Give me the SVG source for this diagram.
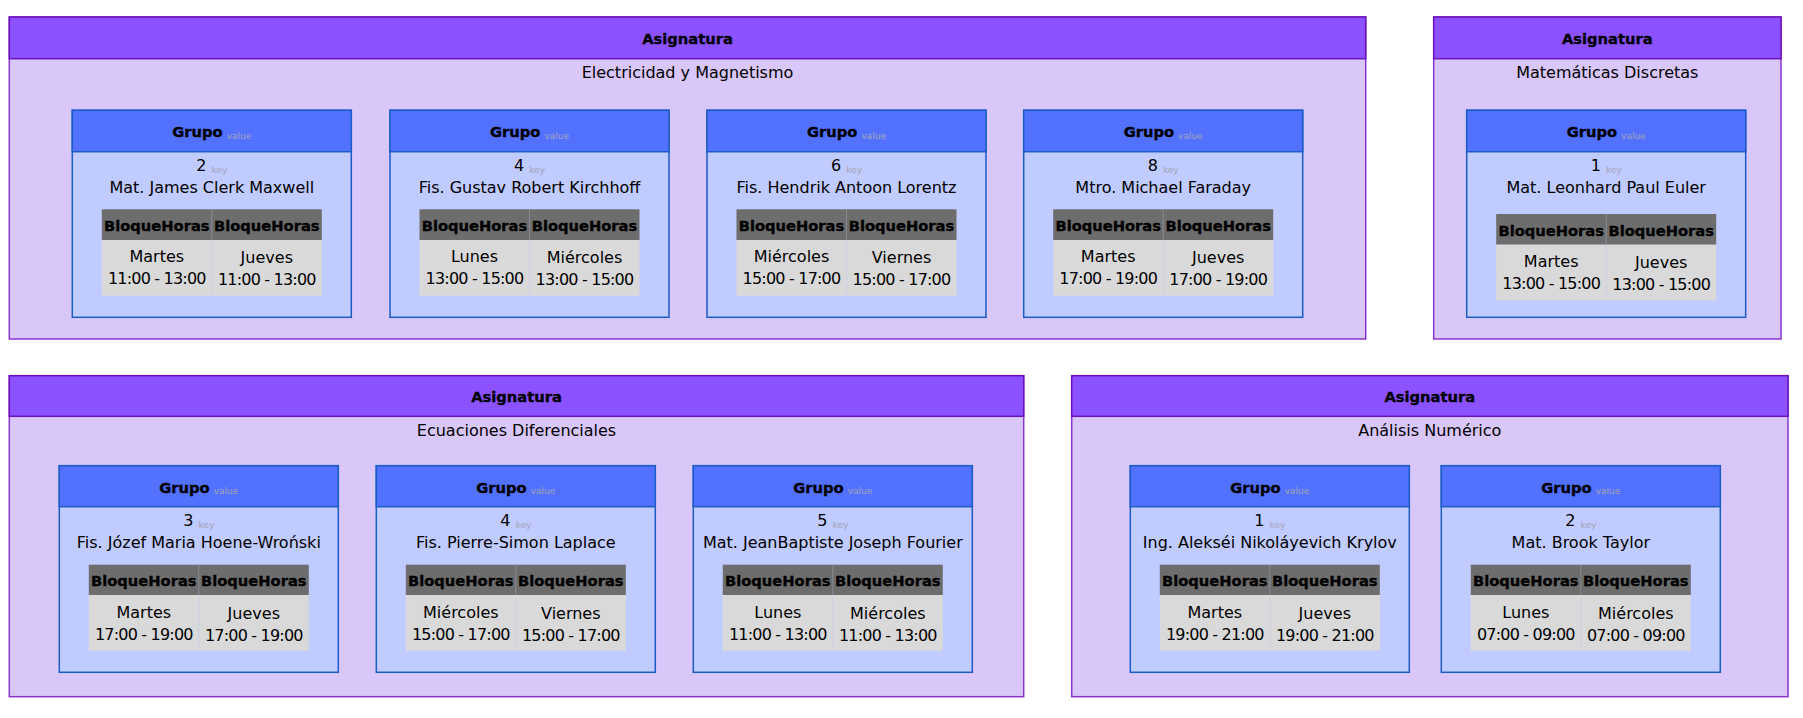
<svg xmlns="http://www.w3.org/2000/svg" width="1803" height="718" viewBox="0 0 1803 718">
<style>
text{font-family:"DejaVu Sans","Liberation Sans",sans-serif;text-anchor:middle;fill:#000}
.ab{fill:#d9c7f9;stroke:#8a34d0;stroke-width:1.5}
.ah{fill:#8c52ff;stroke:#6a12b8;stroke-width:1.5}
.at{font-size:14.7px;font-weight:bold;stroke:#000;stroke-width:0.35px}
.st{font-size:16px}
.gb{fill:#c0cbff;stroke:#1b5dc6;stroke-width:1.5}
.gh{fill:#5271ff;stroke:#1b5dc6;stroke-width:1.5}
.b{font-weight:bold;font-size:14.7px;stroke:#000;stroke-width:0.35px}
.t{font-size:16px}
.sm{font-size:9px;fill:#a3a5b3;font-weight:normal;stroke:none}
.th{fill:#6d6d6d}
.td{fill:#d9d9d9}
.thd{stroke:#8a8a96;stroke-width:1}
.tdd{stroke:#cdd0e2;stroke-width:1}
.bh{font-size:14.7px;font-weight:bold;stroke:#000;stroke-width:0.35px}
.c{font-size:16px}
.tm{letter-spacing:-0.8px}
</style>
<g id="connectors"/>

<!-- Asignatura: Electricidad y Magnetismo -->
<g id="asig-electricidad">
<rect class="ab" x="9.3" y="17" width="1356.4" height="322"/>
<rect class="ah" x="9.3" y="17" width="1356.4" height="41.7"/>
<text class="at" x="687.5" y="44.3">Asignatura</text>
<text class="st" x="687.5" y="77.7">Electricidad y Magnetismo</text>
</g>

<g id="grupo-em-2" transform="translate(72.3,110.3)">
<rect class="gb" width="279" height="207"/><rect class="gh" width="279" height="41.4"/>
<text x="139.5" y="27"><tspan class="b">Grupo</tspan><tspan class="sm" dx="4" dy="1.5">value</tspan></text>
<text class="t" x="139.5" y="60.7"><tspan>2</tspan><tspan class="sm" dx="5" dy="1.7">key</tspan></text>
<text class="t" x="139.5" y="83">Mat. James Clerk Maxwell</text>
<g transform="translate(29.5,99)">
<rect class="th" width="220" height="30.7"/><rect class="td" y="30.7" width="220" height="55.7"/>
<line class="thd" x1="110" y1="0" x2="110" y2="30.7"/><line class="tdd" x1="110" y1="30.7" x2="110" y2="86.4"/>
<text class="bh" x="55" y="21.7">BloqueHoras</text><text class="bh" x="165" y="21.7">BloqueHoras</text>
<text class="c" x="55" y="53">Martes</text><text class="c tm" x="55" y="75">11:00 - 13:00</text>
<text class="c" x="165" y="54">Jueves</text><text class="c tm" x="165" y="76">11:00 - 13:00</text>
</g>
</g>

<g id="grupo-em-4" transform="translate(390,110.3)">
<rect class="gb" width="279" height="207"/><rect class="gh" width="279" height="41.4"/>
<text x="139.5" y="27"><tspan class="b">Grupo</tspan><tspan class="sm" dx="4" dy="1.5">value</tspan></text>
<text class="t" x="139.5" y="60.7"><tspan>4</tspan><tspan class="sm" dx="5" dy="1.7">key</tspan></text>
<text class="t" x="139.5" y="83">Fis. Gustav Robert Kirchhoff</text>
<g transform="translate(29.5,99)">
<rect class="th" width="220" height="30.7"/><rect class="td" y="30.7" width="220" height="55.7"/>
<line class="thd" x1="110" y1="0" x2="110" y2="30.7"/><line class="tdd" x1="110" y1="30.7" x2="110" y2="86.4"/>
<text class="bh" x="55" y="21.7">BloqueHoras</text><text class="bh" x="165" y="21.7">BloqueHoras</text>
<text class="c" x="55" y="53">Lunes</text><text class="c tm" x="55" y="75">13:00 - 15:00</text>
<text class="c" x="165" y="54">Miércoles</text><text class="c tm" x="165" y="76">13:00 - 15:00</text>
</g>
</g>

<g id="grupo-em-6" transform="translate(707,110.3)">
<rect class="gb" width="279" height="207"/><rect class="gh" width="279" height="41.4"/>
<text x="139.5" y="27"><tspan class="b">Grupo</tspan><tspan class="sm" dx="4" dy="1.5">value</tspan></text>
<text class="t" x="139.5" y="60.7"><tspan>6</tspan><tspan class="sm" dx="5" dy="1.7">key</tspan></text>
<text class="t" x="139.5" y="83">Fis. Hendrik Antoon Lorentz</text>
<g transform="translate(29.5,99)">
<rect class="th" width="220" height="30.7"/><rect class="td" y="30.7" width="220" height="55.7"/>
<line class="thd" x1="110" y1="0" x2="110" y2="30.7"/><line class="tdd" x1="110" y1="30.7" x2="110" y2="86.4"/>
<text class="bh" x="55" y="21.7">BloqueHoras</text><text class="bh" x="165" y="21.7">BloqueHoras</text>
<text class="c" x="55" y="53">Miércoles</text><text class="c tm" x="55" y="75">15:00 - 17:00</text>
<text class="c" x="165" y="54">Viernes</text><text class="c tm" x="165" y="76">15:00 - 17:00</text>
</g>
</g>

<g id="grupo-em-8" transform="translate(1023.7,110.3)">
<rect class="gb" width="279" height="207"/><rect class="gh" width="279" height="41.4"/>
<text x="139.5" y="27"><tspan class="b">Grupo</tspan><tspan class="sm" dx="4" dy="1.5">value</tspan></text>
<text class="t" x="139.5" y="60.7"><tspan>8</tspan><tspan class="sm" dx="5" dy="1.7">key</tspan></text>
<text class="t" x="139.5" y="83">Mtro. Michael Faraday</text>
<g transform="translate(29.5,99)">
<rect class="th" width="220" height="30.7"/><rect class="td" y="30.7" width="220" height="55.7"/>
<line class="thd" x1="110" y1="0" x2="110" y2="30.7"/><line class="tdd" x1="110" y1="30.7" x2="110" y2="86.4"/>
<text class="bh" x="55" y="21.7">BloqueHoras</text><text class="bh" x="165" y="21.7">BloqueHoras</text>
<text class="c" x="55" y="53">Martes</text><text class="c tm" x="55" y="75">17:00 - 19:00</text>
<text class="c" x="165" y="54">Jueves</text><text class="c tm" x="165" y="76">17:00 - 19:00</text>
</g>
</g>

<!-- Asignatura: Matemáticas Discretas -->
<g id="asig-discretas">
<rect class="ab" x="1433.7" y="17" width="347.3" height="322"/>
<rect class="ah" x="1433.7" y="17" width="347.3" height="41.7"/>
<text class="at" x="1607.3" y="44.3">Asignatura</text>
<text class="st" x="1607.3" y="77.7">Matemáticas Discretas</text>
</g>

<g id="grupo-md-1" transform="translate(1466.7,110.3)">
<rect class="gb" width="279" height="207"/><rect class="gh" width="279" height="41.4"/>
<text x="139.5" y="27"><tspan class="b">Grupo</tspan><tspan class="sm" dx="4" dy="1.5">value</tspan></text>
<text class="t" x="139.5" y="60.7"><tspan>1</tspan><tspan class="sm" dx="5" dy="1.7">key</tspan></text>
<text class="t" x="139.5" y="83">Mat. Leonhard Paul Euler</text>
<g transform="translate(29.5,103.7)">
<rect class="th" width="220" height="30.7"/><rect class="td" y="30.7" width="220" height="55.7"/>
<line class="thd" x1="110" y1="0" x2="110" y2="30.7"/><line class="tdd" x1="110" y1="30.7" x2="110" y2="86.4"/>
<text class="bh" x="55" y="21.7">BloqueHoras</text><text class="bh" x="165" y="21.7">BloqueHoras</text>
<text class="c" x="55" y="53">Martes</text><text class="c tm" x="55" y="75">13:00 - 15:00</text>
<text class="c" x="165" y="54">Jueves</text><text class="c tm" x="165" y="76">13:00 - 15:00</text>
</g>
</g>

<!-- Asignatura: Ecuaciones Diferenciales -->
<g id="asig-ecuaciones">
<rect class="ab" x="9.3" y="375.7" width="1014.4" height="321"/>
<rect class="ah" x="9.3" y="375.7" width="1014.4" height="40.6"/>
<text class="at" x="516.5" y="402">Asignatura</text>
<text class="st" x="516.5" y="435.7">Ecuaciones Diferenciales</text>
</g>

<g id="grupo-ed-3" transform="translate(59.3,465.7)">
<rect class="gb" width="279" height="206.6"/><rect class="gh" width="279" height="41"/>
<text x="139.5" y="27"><tspan class="b">Grupo</tspan><tspan class="sm" dx="4" dy="1.5">value</tspan></text>
<text class="t" x="139.5" y="60.7"><tspan>3</tspan><tspan class="sm" dx="5" dy="1.7">key</tspan></text>
<text class="t" x="139.5" y="82.6">Fis. Józef Maria Hoene-Wroński</text>
<g transform="translate(29.5,99)">
<rect class="th" width="220" height="30.3"/><rect class="td" y="30.3" width="220" height="55.7"/>
<line class="thd" x1="110" y1="0" x2="110" y2="30.3"/><line class="tdd" x1="110" y1="30.3" x2="110" y2="86"/>
<text class="bh" x="55" y="21.5">BloqueHoras</text><text class="bh" x="165" y="21.5">BloqueHoras</text>
<text class="c" x="55" y="53">Martes</text><text class="c tm" x="55" y="75">17:00 - 19:00</text>
<text class="c" x="165" y="54">Jueves</text><text class="c tm" x="165" y="76">17:00 - 19:00</text>
</g>
</g>

<g id="grupo-ed-4" transform="translate(376.3,465.7)">
<rect class="gb" width="279" height="206.6"/><rect class="gh" width="279" height="41"/>
<text x="139.5" y="27"><tspan class="b">Grupo</tspan><tspan class="sm" dx="4" dy="1.5">value</tspan></text>
<text class="t" x="139.5" y="60.7"><tspan>4</tspan><tspan class="sm" dx="5" dy="1.7">key</tspan></text>
<text class="t" x="139.5" y="82.6">Fis. Pierre-Simon Laplace</text>
<g transform="translate(29.5,99)">
<rect class="th" width="220" height="30.3"/><rect class="td" y="30.3" width="220" height="55.7"/>
<line class="thd" x1="110" y1="0" x2="110" y2="30.3"/><line class="tdd" x1="110" y1="30.3" x2="110" y2="86"/>
<text class="bh" x="55" y="21.5">BloqueHoras</text><text class="bh" x="165" y="21.5">BloqueHoras</text>
<text class="c" x="55" y="53">Miércoles</text><text class="c tm" x="55" y="75">15:00 - 17:00</text>
<text class="c" x="165" y="54">Viernes</text><text class="c tm" x="165" y="76">15:00 - 17:00</text>
</g>
</g>

<g id="grupo-ed-5" transform="translate(693.3,465.7)">
<rect class="gb" width="279" height="206.6"/><rect class="gh" width="279" height="41"/>
<text x="139.5" y="27"><tspan class="b">Grupo</tspan><tspan class="sm" dx="4" dy="1.5">value</tspan></text>
<text class="t" x="139.5" y="60.7"><tspan>5</tspan><tspan class="sm" dx="5" dy="1.7">key</tspan></text>
<text class="t" x="139.5" y="82.6">Mat. JeanBaptiste Joseph Fourier</text>
<g transform="translate(29.5,99)">
<rect class="th" width="220" height="30.3"/><rect class="td" y="30.3" width="220" height="55.7"/>
<line class="thd" x1="110" y1="0" x2="110" y2="30.3"/><line class="tdd" x1="110" y1="30.3" x2="110" y2="86"/>
<text class="bh" x="55" y="21.5">BloqueHoras</text><text class="bh" x="165" y="21.5">BloqueHoras</text>
<text class="c" x="55" y="53">Lunes</text><text class="c tm" x="55" y="75">11:00 - 13:00</text>
<text class="c" x="165" y="54">Miércoles</text><text class="c tm" x="165" y="76">11:00 - 13:00</text>
</g>
</g>

<!-- Asignatura: Análisis Numérico -->
<g id="asig-analisis">
<rect class="ab" x="1071.7" y="375.7" width="716.3" height="321"/>
<rect class="ah" x="1071.7" y="375.7" width="716.3" height="40.6"/>
<text class="at" x="1429.8" y="402">Asignatura</text>
<text class="st" x="1429.8" y="435.7">Análisis Numérico</text>
</g>

<g id="grupo-an-1" transform="translate(1130.3,465.7)">
<rect class="gb" width="279" height="206.6"/><rect class="gh" width="279" height="41"/>
<text x="139.5" y="27"><tspan class="b">Grupo</tspan><tspan class="sm" dx="4" dy="1.5">value</tspan></text>
<text class="t" x="139.5" y="60.7"><tspan>1</tspan><tspan class="sm" dx="5" dy="1.7">key</tspan></text>
<text class="t" x="139.5" y="82.6">Ing. Alekséi Nikoláyevich Krylov</text>
<g transform="translate(29.5,99)">
<rect class="th" width="220" height="30.3"/><rect class="td" y="30.3" width="220" height="55.7"/>
<line class="thd" x1="110" y1="0" x2="110" y2="30.3"/><line class="tdd" x1="110" y1="30.3" x2="110" y2="86"/>
<text class="bh" x="55" y="21.5">BloqueHoras</text><text class="bh" x="165" y="21.5">BloqueHoras</text>
<text class="c" x="55" y="53">Martes</text><text class="c tm" x="55" y="75">19:00 - 21:00</text>
<text class="c" x="165" y="54">Jueves</text><text class="c tm" x="165" y="76">19:00 - 21:00</text>
</g>
</g>

<g id="grupo-an-2" transform="translate(1441.3,465.7)">
<rect class="gb" width="279" height="206.6"/><rect class="gh" width="279" height="41"/>
<text x="139.5" y="27"><tspan class="b">Grupo</tspan><tspan class="sm" dx="4" dy="1.5">value</tspan></text>
<text class="t" x="139.5" y="60.7"><tspan>2</tspan><tspan class="sm" dx="5" dy="1.7">key</tspan></text>
<text class="t" x="139.5" y="82.6">Mat. Brook Taylor</text>
<g transform="translate(29.5,99)">
<rect class="th" width="220" height="30.3"/><rect class="td" y="30.3" width="220" height="55.7"/>
<line class="thd" x1="110" y1="0" x2="110" y2="30.3"/><line class="tdd" x1="110" y1="30.3" x2="110" y2="86"/>
<text class="bh" x="55" y="21.5">BloqueHoras</text><text class="bh" x="165" y="21.5">BloqueHoras</text>
<text class="c" x="55" y="53">Lunes</text><text class="c tm" x="55" y="75">07:00 - 09:00</text>
<text class="c" x="165" y="54">Miércoles</text><text class="c tm" x="165" y="76">07:00 - 09:00</text>
</g>
</g>
</svg>
